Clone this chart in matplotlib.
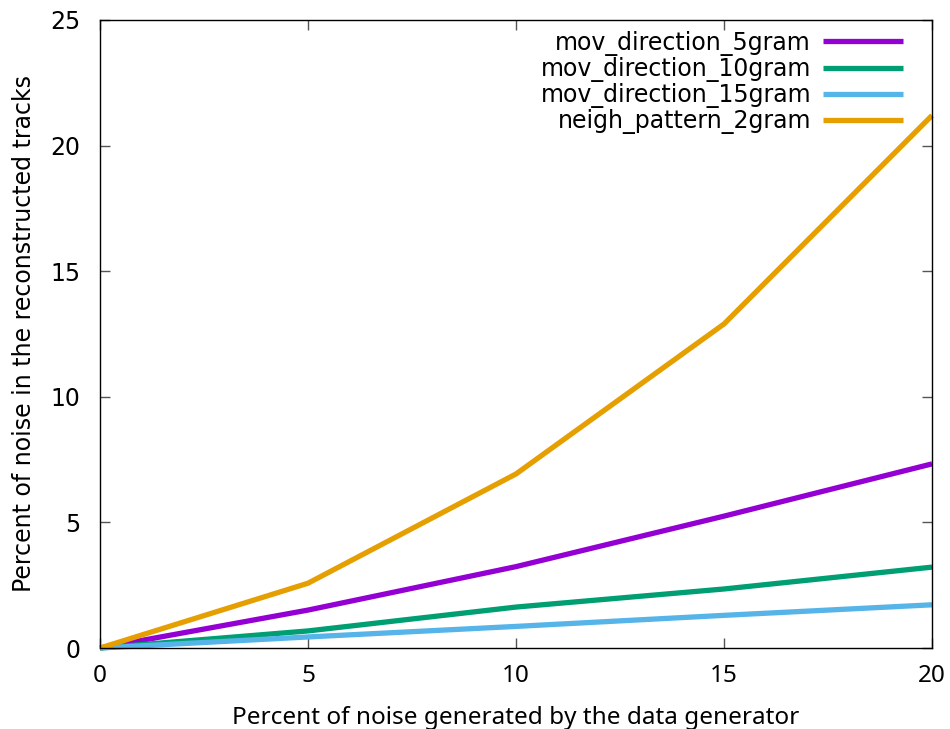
import numpy as np
import matplotlib
matplotlib.use('Agg')
import matplotlib.pyplot as plt

noise_generated = [0, 5, 10, 15, 20]
mov_direction_5gram = [0, 1.51, 3.24, 5.25, 7.33]
mov_direction_10gram = [0, 0.68, 1.63, 2.35, 3.22]
mov_direction_15gram = [0, 0.44, 0.86, 1.30, 1.72]
neigh_pattern_2gram = [0, 2.58, 6.93, 12.9, 21.2]

series = [
    ('mov_direction_5gram', mov_direction_5gram, '#9400d3'),
    ('mov_direction_10gram', mov_direction_10gram, '#009e73'),
    ('mov_direction_15gram', mov_direction_15gram, '#56b4e9'),
    ('neigh_pattern_2gram', neigh_pattern_2gram, '#e69f00'),
]

plt.rcParams['font.family'] = 'DejaVu Sans'

fig = plt.figure(figsize=(9.5, 7.29), dpi=100)
ax = fig.add_axes([0.1053, 0.1111, 0.8758, 0.8615])

for name, vals, col in series:
    ax.plot(noise_generated, vals, color=col, linewidth=3.8, label=name,
            solid_capstyle='butt', clip_on=False)

ax.set_xlim(0, 20)
ax.set_ylim(0, 25)
ax.set_xticks([0, 5, 10, 15, 20])
ax.set_yticks([0, 5, 10, 15, 20, 25])
ax.tick_params(direction='in', length=7, width=1, top=True, right=True,
               color='#555555')
ax.tick_params(axis='y', pad=14)
ax.tick_params(axis='x', pad=11.5)
for lab in ax.get_yticklabels():
    lab.set_fontsize(17)
for lab in ax.get_xticklabels():
    lab.set_fontsize(17.5)
    lab.set_family('Noto Sans')
for sp in ax.spines.values():
    sp.set_linewidth(1)

ax.set_xlabel('Percent of noise generated by the data generator',
              fontsize=17.5, family='Noto Sans', labelpad=13)
ax.set_ylabel('Percent of noise in the reconstructed tracks', fontsize=17,
              labelpad=10)

leg = ax.legend(loc='upper right', frameon=False, markerfirst=False,
                fontsize=17, handlelength=3.4, labelspacing=0.05,
                handletextpad=0.5, borderaxespad=0.05)
leg.set_bbox_to_anchor((0.978, 1.0))
for t in leg.get_texts():
    t.set_ha('right')
leg._legend_box.align = 'right'

fig.savefig('out.png', dpi=100)
